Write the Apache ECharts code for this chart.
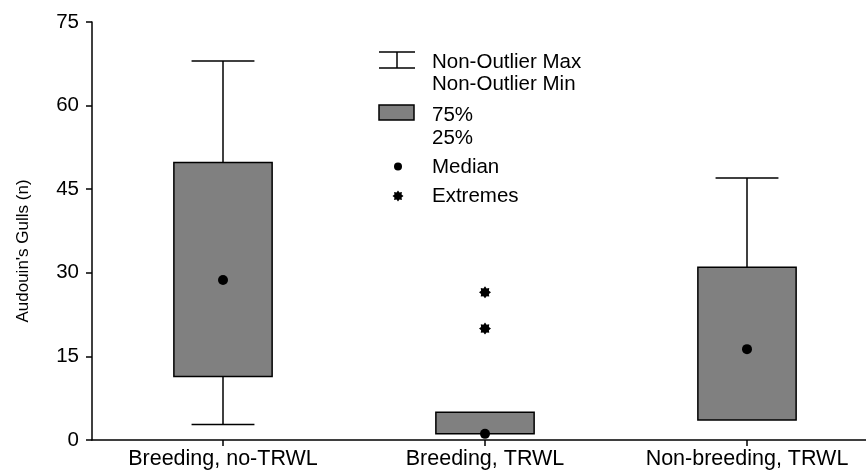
<!DOCTYPE html>
<html>
<head>
<meta charset="utf-8">
<script src="https://cdn.jsdelivr.net/npm/echarts@6/dist/echarts.min.js"></script>
<style>html,body{margin:0;padding:0;background:#fff;overflow:hidden}#c{width:866px;height:471px}</style>
</head>
<body>
<div id="c"></div>
<script>
var categories = ['Breeding, no-TRWL', 'Breeding, TRWL', 'Non-breeding, TRWL'];
var whiskerMax = [68, 5, 47];
var q3 = [49.8, 5, 31];
var median = [28.7, 1.1, 16.3];
var q1 = [11.4, 1.1, 3.6];
var whiskerMin = [2.8, 1.1, 3.6];
var extremeCat = [1, 1];
var extremeVal = [26.5, 20];
var yTicks = [0, 15, 30, 45, 60, 75];
var yTitle = "Audouin's Gulls (n)";

var FONT = 'Liberation Sans, Arial, sans-serif';
var starPath = 'path://M1 0L0.65 0.27L0.707 0.707L0.27 0.65L0 1L-0.27 0.65L-0.707 0.707L-0.65 0.27L-1 0L-0.65 -0.27L-0.707 -0.707L-0.27 -0.65L0 -1L0.27 -0.65L0.707 -0.707L0.65 -0.27Z';

var boxData = categories.map(function (c, i) {
  return [i, whiskerMin[i], q1[i], median[i], q3[i], whiskerMax[i]];
});

function renderBox(params, api) {
  var idx = api.value(0);
  var band = api.size([1, 0])[0];
  var bw = band * 0.375, cw = band * 0.24;
  var pMin = api.coord([idx, api.value(1)]);
  var pQ1 = api.coord([idx, api.value(2)]);
  var pQ3 = api.coord([idx, api.value(4)]);
  var pMax = api.coord([idx, api.value(5)]);
  var x = pMin[0];
  var ls = { stroke: '#000', lineWidth: 1.5 };
  var ch = [];
  if (api.value(5) > api.value(4)) {
    ch.push({ type: 'line', shape: { x1: x, y1: pQ3[1], x2: x, y2: pMax[1] }, style: ls });
    ch.push({ type: 'line', shape: { x1: x - cw / 2, y1: pMax[1], x2: x + cw / 2, y2: pMax[1] }, style: ls });
  }
  if (api.value(1) < api.value(2)) {
    ch.push({ type: 'line', shape: { x1: x, y1: pQ1[1], x2: x, y2: pMin[1] }, style: ls });
    ch.push({ type: 'line', shape: { x1: x - cw / 2, y1: pMin[1], x2: x + cw / 2, y2: pMin[1] }, style: ls });
  }
  ch.push({ type: 'rect', shape: { x: x - bw / 2, y: pQ3[1], width: bw, height: pQ1[1] - pQ3[1] },
            style: { fill: '#808080', stroke: '#000', lineWidth: 1.5 } });
  return { type: 'group', children: ch };
}

function starPoints(cx, cy, r) {
  var pts = [];
  for (var k = 0; k < 16; k++) {
    var a = k * Math.PI / 8, rr = (k % 2 === 0) ? r : r * 0.7;
    pts.push([cx + rr * Math.cos(a), cy + rr * Math.sin(a)]);
  }
  return pts;
}

var legTxt = { fontFamily: FONT, fontSize: 20.5, fill: '#000', verticalAlign: 'middle' };
function t(txt, x, y) { return { type: 'text', left: x, top: y - 9, style: Object.assign({ text: txt }, legTxt) }; }

var chart = echarts.init(document.getElementById('c'), null, { renderer: 'canvas' });
chart.setOption({
  animation: false,
  backgroundColor: '#fff',
  grid: { left: 92, width: 786, top: 22, height: 418, containLabel: false, outerBoundsMode: 'none' },
  xAxis: {
    type: 'category', data: categories, boundaryGap: true,
    axisLine: { show: true, lineStyle: { color: '#000', width: 1.5 } },
    axisTick: { show: true, alignWithLabel: true, length: 6, lineStyle: { color: '#000', width: 1.5 } },
    axisLabel: { color: '#000', fontFamily: FONT, fontSize: 21.5, margin: 8, interval: 0, hideOverlap: false },
    splitLine: { show: false }
  },
  yAxis: {
    type: 'value', min: 0, max: 75, interval: 15,
    axisLine: { show: true, lineStyle: { color: '#000', width: 1.5 } },
    axisTick: { show: true, length: 6, lineStyle: { color: '#000', width: 1.5 } },
    axisLabel: { color: '#000', fontFamily: FONT, fontSize: 20.5, margin: 13,
      formatter: function (v) { return yTicks.indexOf(v) >= 0 ? String(v) : ''; } },
    splitLine: { show: false }
  },
  series: [
    { type: 'custom', renderItem: renderBox, data: boxData, encode: { x: 0, y: [1, 2, 3, 4, 5] }, z: 2 },
    { type: 'scatter', data: median.map(function (v, i) { return [i, v]; }), symbol: 'circle', symbolSize: 10,
      itemStyle: { color: '#000', opacity: 1 }, z: 5 },
    { type: 'scatter', data: extremeVal.map(function (v, i) { return [extremeCat[i], v]; }), symbol: starPath, symbolSize: 12,
      itemStyle: { color: '#000', opacity: 1 }, z: 5 }
  ],
  graphic: [
    { type: 'text', x: 23, y: 251, rotation: Math.PI / 2,
      style: { text: yTitle, fontFamily: FONT, fontSize: 17, fill: '#000', align: 'center', verticalAlign: 'middle' } },
    { type: 'line', shape: { x1: 379, y1: 52, x2: 415, y2: 52 }, style: { stroke: '#000', lineWidth: 1.5 } },
    { type: 'line', shape: { x1: 379, y1: 68, x2: 415, y2: 68 }, style: { stroke: '#000', lineWidth: 1.5 } },
    { type: 'line', shape: { x1: 397, y1: 52, x2: 397, y2: 68 }, style: { stroke: '#000', lineWidth: 1.5 } },
    { type: 'rect', shape: { x: 379, y: 105, width: 35, height: 15 }, style: { fill: '#808080', stroke: '#000', lineWidth: 1.5 } },
    { type: 'circle', shape: { cx: 398, cy: 166.5, r: 4 }, style: { fill: '#000' } },
    { type: 'polygon', shape: { points: starPoints(398, 196, 5.5) }, style: { fill: '#000' } },
    t('Non-Outlier Max', 432, 61),
    t('Non-Outlier Min', 432, 83),
    t('75%', 432, 114),
    t('25%', 432, 137),
    t('Median', 432, 166),
    t('Extremes', 432, 195)
  ]
});
</script>
</body>
</html>
